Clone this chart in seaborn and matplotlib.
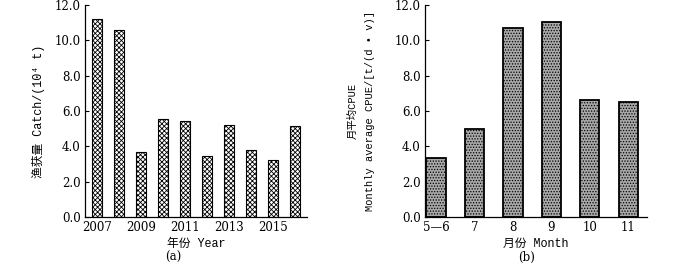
import pandas as pd
import matplotlib
matplotlib.use("Agg")
import matplotlib.pyplot as plt
import seaborn as sns

# (a) annual catch
years = ["2007", "2008", "2009", "2010", "2011", "2012", "2013", "2014", "2015", "2016"]
catch = [11.2, 10.57, 3.65, 5.52, 5.45, 3.44, 5.23, 3.8, 3.22, 5.15]

# (b) monthly average CPUE
months = ["5—6", "7", "8", "9", "10", "11"]
cpue = [3.35, 4.95, 10.68, 11.04, 6.63, 6.53]

y_ticks = [0, 2, 4, 6, 8, 10, 12]
y_ticklabels = ["0.0", "2.0", "4.0", "6.0", "8.0", "10.0", "12.0"]

sns.set_theme(style="ticks")
plt.rcParams["font.family"] = ["DejaVu Serif", "Noto Sans CJK SC"]
plt.rcParams["hatch.linewidth"] = 0.6
plt.rcParams["text.color"] = "black"
plt.rcParams["axes.labelcolor"] = "black"
plt.rcParams["xtick.color"] = "black"
plt.rcParams["ytick.color"] = "black"

# label font: monospace latin with CJK fallback
mono = ["Liberation Mono", "Noto Sans CJK SC"]

df_a = pd.DataFrame({"year": years, "catch": catch})
df_b = pd.DataFrame({"month": months, "cpue": cpue})

fig = plt.figure(figsize=(7, 2.66), dpi=100)
ax1 = fig.add_axes([0.1214, 0.185, 0.317, 0.796])
ax2 = fig.add_axes([0.607, 0.185, 0.317, 0.796])

# left panel: white bars with checkered hatch
sns.barplot(data=df_a, x="year", y="catch", ax=ax1, width=0.45,
            color="white", edgecolor="black", linewidth=0.8, hatch="xxxxxxx",
            saturation=1)
ax1.set_xlim(-0.53, 9.52)
ax1.set_xticks([0, 2, 4, 6, 8])
ax1.set_xticklabels(["2007", "2009", "2011", "2013", "2015"])
ax1.set_ylabel("渔获量 Catch/(10⁴ t)", labelpad=7, family=mono, fontsize=8.5)
ax1.set_xlabel("年份 Year", labelpad=3, family=mono, fontsize=8.5)
ax1.text(0.4, -0.19, "(a)", transform=ax1.transAxes, ha="center", va="center", fontsize=8.5)

# right panel: gray dotted bars
sns.barplot(data=df_b, x="month", y="cpue", ax=ax2, width=0.5,
            color="#a8a8a8", edgecolor="black", linewidth=1.3, hatch="......",
            saturation=1)
ax2.set_xlim(-0.29, 5.48)
ax2.set_ylabel("月平均CPUE\nMonthly average CPUE/[t/(d • v)]",
               labelpad=14, linespacing=1.9, family=mono, fontsize=7.5)
ax2.set_xlabel("月份 Month", labelpad=3, family=mono, fontsize=8.5)
ax2.text(0.46, -0.19, "(b)", transform=ax2.transAxes, ha="center", va="center", fontsize=8.5)

for ax in (ax1, ax2):
    ax.set_ylim(0, 12)
    ax.set_yticks(y_ticks)
    ax.set_yticklabels(y_ticklabels)
    ax.tick_params(axis="y", direction="in", length=3, width=0.8, labelsize=8.5, pad=3)
    ax.tick_params(axis="x", length=0, labelsize=8.5, pad=3)
    for s in ("top", "right"):
        ax.spines[s].set_visible(False)
    for s in ("left", "bottom"):
        ax.spines[s].set_linewidth(0.9)
        ax.spines[s].set_color("black")

fig.savefig("out.png", dpi=100)
